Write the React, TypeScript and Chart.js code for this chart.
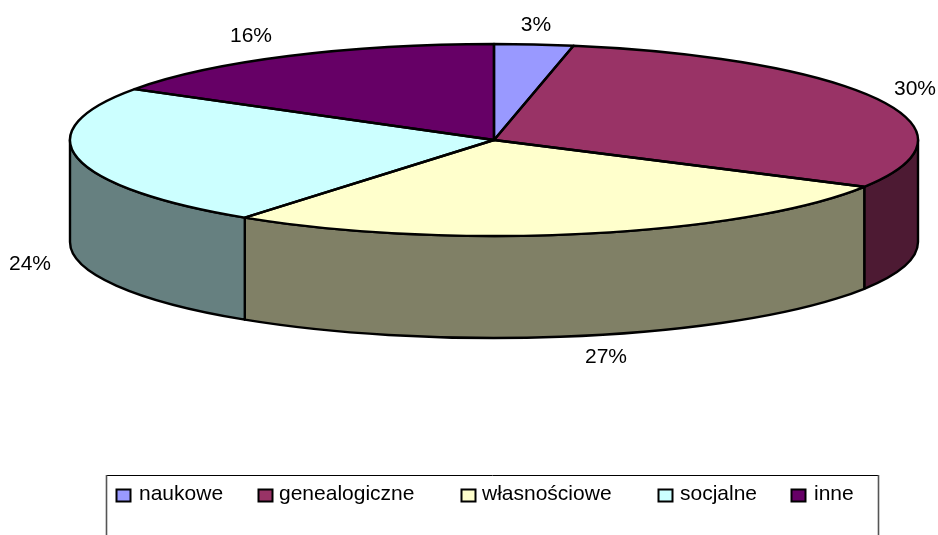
import React, { useEffect, useRef } from "react";
import { Chart, registerables } from "chart.js";

Chart.register(...registerables);

const categories = ["naukowe", "genealogiczne", "własnościowe", "socjalne", "inne"];
const shares = [3, 30.1, 26.9, 23.9, 16.1];
const topColors = ["#9999FF", "#993366", "#FFFFCC", "#CCFFFF", "#660066"];
const wallColors = ["#4D4D80", "#4D1A33", "#808066", "#668080", "#330033"];
const percentLabels = ["3%", "30%", "27%", "24%", "16%"];

const FONT = '21px "Liberation Sans", Arial, sans-serif';
const CX = 494;
const CY = 140;
const RX = 424;
const RY = 96;
const DEPTH = 102;
const labelAnchors: [number, number][] = [
  [536, 25],
  [915, 89],
  [606, 357],
  [30, 264],
  [251, 36],
];
const legendBoxX = [116.5, 258.5, 461.5, 658.5, 791.5];
const legendTextX = [139, 279, 482, 680, 814];

const pie3d = {
  id: "pie3d",
  beforeDatasetDraw(chart: any) {
    const { ctx } = chart;
    const arcs = chart.getDatasetMeta(0).data;
    ctx.save();
    ctx.strokeStyle = "#000";
    ctx.lineWidth = 2.4;
    ctx.lineJoin = "round";
    arcs.forEach((arc: any, i: number) => {
      const a = Math.max(arc.startAngle, 0);
      const b = Math.min(arc.endAngle, Math.PI);
      if (b <= a) return;
      ctx.beginPath();
      ctx.ellipse(CX, CY, RX, RY, 0, a, b, false);
      ctx.ellipse(CX, CY + DEPTH, RX, RY, 0, b, a, true);
      ctx.closePath();
      ctx.fillStyle = wallColors[i];
      ctx.fill();
      ctx.stroke();
    });
    ctx.restore();
    const first = arcs[0];
    ctx.save();
    ctx.translate(CX, CY);
    ctx.scale(RX / first.outerRadius, RY / first.outerRadius);
    ctx.translate(-first.x, -first.y);
  },
  afterDatasetDraw(chart: any) {
    const { ctx } = chart;
    ctx.restore();
    const arcs = chart.getDatasetMeta(0).data;
    ctx.save();
    ctx.strokeStyle = "#000";
    ctx.lineWidth = 2.4;
    ctx.lineJoin = "round";
    arcs.forEach((arc: any) => {
      ctx.beginPath();
      ctx.moveTo(CX, CY);
      ctx.ellipse(CX, CY, RX, RY, 0, arc.startAngle, arc.endAngle, false);
      ctx.closePath();
      ctx.stroke();
    });
    ctx.restore();
  },
  afterDraw(chart: any) {
    const { ctx } = chart;
    ctx.save();
    ctx.font = FONT;
    ctx.fillStyle = "#000";
    ctx.textAlign = "center";
    ctx.textBaseline = "middle";
    percentLabels.forEach((t, i) => ctx.fillText(t, labelAnchors[i][0], labelAnchors[i][1]));

    ctx.strokeStyle = "#000";
    ctx.lineWidth = 1;
    ctx.beginPath();
    ctx.moveTo(106.5, 475.5);
    ctx.lineTo(878.5, 475.5);
    ctx.stroke();
    ctx.strokeStyle = "#555";
    ctx.lineWidth = 1.6;
    ctx.beginPath();
    ctx.moveTo(106.5, 475);
    ctx.lineTo(106.5, 600);
    ctx.moveTo(878.5, 475);
    ctx.lineTo(878.5, 600);
    ctx.stroke();

    ctx.textAlign = "left";
    categories.forEach((label, i) => {
      ctx.fillStyle = topColors[i];
      ctx.fillRect(legendBoxX[i], 489.5, 14, 12);
      ctx.strokeStyle = "#000";
      ctx.lineWidth = 2;
      ctx.strokeRect(legendBoxX[i], 489.5, 14, 12);
      ctx.fillStyle = "#000";
      ctx.fillText(label, legendTextX[i], 494);
    });
    ctx.restore();
  },
};

export default function App() {
  const ref = useRef<HTMLCanvasElement>(null);
  useEffect(() => {
    document.body.style.margin = "0";
    const chart = new Chart(ref.current!, {
      type: "pie",
      data: {
        labels: categories,
        datasets: [
          {
            data: shares,
            backgroundColor: topColors,
            borderWidth: 0,
            clip: false,
          } as any,
        ],
      },
      options: {
        responsive: false,
        animation: false,
        plugins: { legend: { display: false }, tooltip: { enabled: false } },
      },
      plugins: [pie3d],
    });
    return () => chart.destroy();
  }, []);
  return (
    <canvas
      ref={ref}
      width={938}
      height={535}
      style={{ display: "block", position: "absolute", left: 0, top: 0 }}
    />
  );
}
